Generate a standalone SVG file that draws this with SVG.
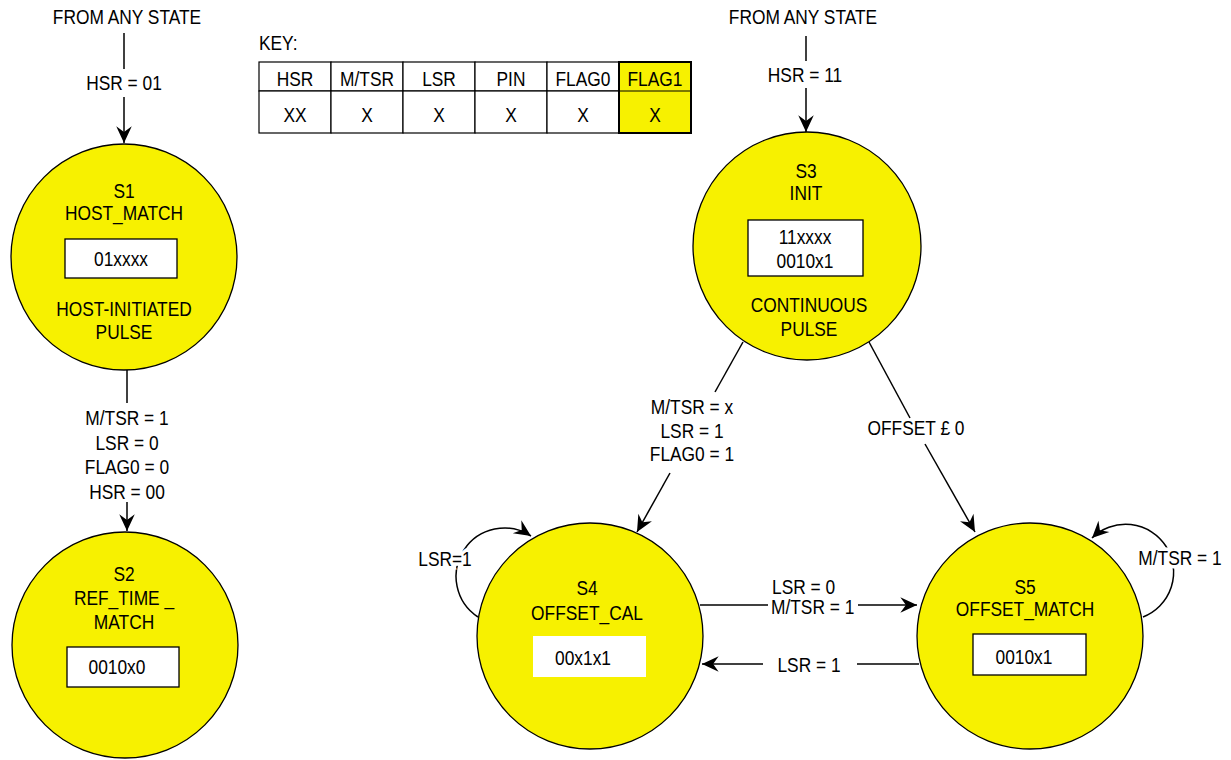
<svg xmlns="http://www.w3.org/2000/svg" width="1231" height="760" viewBox="0 0 1231 760">
<style>
text{font-family:"Liberation Sans",Arial,sans-serif;font-size:19.5px;fill:#000;text-anchor:middle;transform-box:fill-box;transform-origin:center;transform:scaleX(0.89)}
.st{fill:#F7F100;stroke:#000;stroke-width:1.3}
.bx{fill:#fff;stroke:#000;stroke-width:1.3}
.ln{fill:none;stroke:#000;stroke-width:1.5}
.cell{fill:#fff;stroke:#000;stroke-width:1.2}
.halo{stroke:#fff;stroke-width:7;paint-order:stroke}
.l{text-anchor:start;transform-origin:left center}
</style>
<defs>
<marker id="ah" markerUnits="userSpaceOnUse" markerWidth="20" markerHeight="20" viewBox="-16 -8 18 16" refX="0" refY="0" orient="auto">
<path d="M0,0 L-15,-7 L-10,0 L-15,7 Z" fill="#000"/>
</marker>
</defs>

<g id="key">
<text class="l" x="259" y="50">KEY:</text>
<rect class="cell" x="259" y="62" width="72" height="29"/>
<rect class="cell" x="331" y="62" width="72" height="29"/>
<rect class="cell" x="403" y="62" width="72" height="29"/>
<rect class="cell" x="475" y="62" width="72" height="29"/>
<rect class="cell" x="547" y="62" width="72" height="29"/>
<rect class="cell" x="259" y="91" width="72" height="42"/>
<rect class="cell" x="331" y="91" width="72" height="42"/>
<rect class="cell" x="403" y="91" width="72" height="42"/>
<rect class="cell" x="475" y="91" width="72" height="42"/>
<rect class="cell" x="547" y="91" width="72" height="42"/>
<rect x="619" y="62" width="72" height="71" fill="#F7F100" stroke="#000" stroke-width="2"/>
<line x1="619" y1="91" x2="691" y2="91" stroke="#000" stroke-width="1.2"/>
<text x="295" y="86">HSR</text>
<text x="367" y="86">M/TSR</text>
<text x="439" y="86">LSR</text>
<text x="511" y="86">PIN</text>
<text x="583" y="86">FLAG0</text>
<text x="655" y="86">FLAG1</text>
<text x="295" y="122">XX</text>
<text x="367" y="122">X</text>
<text x="439" y="122">X</text>
<text x="511" y="122">X</text>
<text x="583" y="122">X</text>
<text x="655" y="122">X</text>
</g>

<g id="connectors">
<text x="127" y="24">FROM ANY STATE</text>
<line class="ln" x1="124" y1="33" x2="124" y2="69"/>
<text x="124" y="90">HSR = 01</text>
<line class="ln" x1="124" y1="97" x2="124" y2="143" marker-end="url(#ah)"/>

<text x="803" y="24">FROM ANY STATE</text>
<line class="ln" x1="806" y1="36" x2="806" y2="61"/>
<text x="805" y="82">HSR = 11</text>
<line class="ln" x1="806" y1="88" x2="806" y2="132" marker-end="url(#ah)"/>

<line class="ln" x1="127" y1="370" x2="127" y2="403"/>
<text x="127" y="425">M/TSR = 1</text>
<text x="127" y="450">LSR = 0</text>
<text x="127" y="474">FLAG0 = 0</text>
<text x="127" y="499">HSR = 00</text>
<line class="ln" x1="127" y1="502" x2="127" y2="531" marker-end="url(#ah)"/>

<line class="ln" x1="743" y1="342" x2="715" y2="392"/>
<text x="692" y="414">M/TSR = x</text>
<text x="692" y="438">LSR = 1</text>
<text x="692" y="461">FLAG0 = 1</text>
<line class="ln" x1="670" y1="473" x2="637" y2="532" marker-end="url(#ah)"/>

<line class="ln" x1="869" y1="342" x2="910" y2="418"/>
<text x="916" y="435">OFFSET £ 0</text>
<line class="ln" x1="925" y1="444" x2="975" y2="532" marker-end="url(#ah)"/>

<line class="ln" x1="700" y1="605" x2="768" y2="605"/>
<text class="l" x="772" y="594">LSR = 0</text>
<text class="l" x="771" y="614">M/TSR = 1</text>
<line class="ln" x1="858" y1="605" x2="917" y2="605" marker-end="url(#ah)"/>

<line class="ln" x1="919" y1="664" x2="857" y2="664"/>
<text x="809" y="672">LSR = 1</text>
<line class="ln" x1="763" y1="664" x2="702" y2="664" marker-end="url(#ah)"/>

<path class="ln" d="M478,617 A48,48 0 1 1 531,536" marker-end="url(#ah)"/>
<text class="halo" x="445" y="566">LSR=1</text>

<path class="ln" d="M1143,617 A48,48 0 1 0 1092,538" marker-end="url(#ah)"/>
<text class="halo" x="1180" y="565">M/TSR = 1</text>
</g>

<g id="S1">
<circle class="st" cx="124" cy="257" r="113"/>
<text x="124" y="198">S1</text>
<text x="124" y="220">HOST_MATCH</text>
<rect class="bx" x="65" y="239" width="112" height="39"/>
<text x="121" y="266">01xxxx</text>
<text x="124" y="316">HOST-INITIATED</text>
<text x="124" y="339">PULSE</text>
</g>

<g id="S2">
<circle class="st" cx="125" cy="645" r="113"/>
<text x="124" y="581">S2</text>
<text x="124" y="605">REF_TIME _</text>
<text x="124" y="629">MATCH</text>
<rect class="bx" x="67" y="647" width="112" height="40"/>
<text x="117" y="674">0010x0</text>
</g>

<g id="S3">
<circle class="st" cx="807" cy="246" r="114"/>
<text x="806" y="178">S3</text>
<text x="806" y="200">INIT</text>
<rect class="bx" x="748" y="220" width="115" height="56"/>
<text x="805" y="244">11xxxx</text>
<text x="805" y="268">0010x1</text>
<text x="809" y="312">CONTINUOUS</text>
<text x="809" y="336">PULSE</text>
</g>

<g id="S4">
<circle class="st" cx="590" cy="636" r="113"/>
<text x="587" y="595">S4</text>
<text x="587" y="620">OFFSET_CAL</text>
<rect x="533" y="636" width="113" height="41" fill="#fff"/>
<text x="583" y="665">00x1x1</text>
</g>

<g id="S5">
<circle class="st" cx="1030" cy="636" r="113"/>
<text x="1025" y="594">S5</text>
<text x="1025" y="616">OFFSET_MATCH</text>
<rect class="bx" x="973" y="634" width="113" height="41"/>
<text x="1024" y="664">0010x1</text>
</g>
</svg>
